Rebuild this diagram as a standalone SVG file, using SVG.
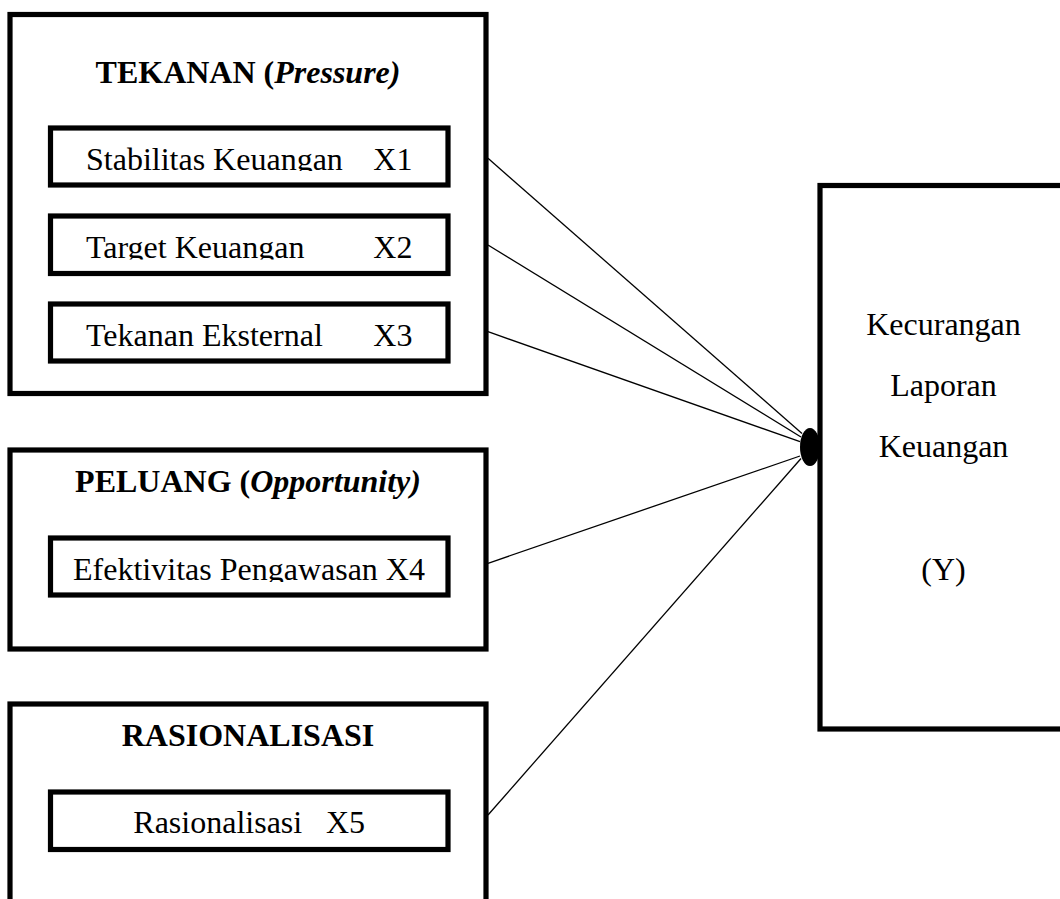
<svg xmlns="http://www.w3.org/2000/svg" width="1060" height="899" viewBox="0 0 1060 899">
<style>
.box{fill:none;stroke:#000;stroke-width:5.2}
.t{font-family:"Liberation Serif","Times New Roman",serif;font-size:32px;fill:#000}
.b{font-weight:bold}
.i{font-style:italic}
.c{text-anchor:middle}
.ln{stroke:#000;stroke-width:1.3;fill:none}
</style>
<defs>
<clipPath id="c1"><rect x="53" y="130" width="393" height="41"/></clipPath>
<clipPath id="c2"><rect x="53" y="218" width="393" height="41.5"/></clipPath>
<clipPath id="c4"><rect x="53" y="540" width="393" height="42"/></clipPath>
</defs>
<rect width="1060" height="899" fill="#fff"/>
<g id="tekanan">
<rect class="box" x="10" y="14.5" width="476" height="379"/>
<text class="t b c" x="248" y="83">TEKANAN (<tspan class="i">Pressure)</tspan></text>
</g>
<g id="x1">
<rect class="box" x="50.5" y="128" width="397.5" height="57"/>
<text class="t" y="170" clip-path="url(#c1)"><tspan x="86">Stabilitas Keuangan</tspan><tspan x="373.3">X1</tspan></text>
</g>
<g id="x2">
<rect class="box" x="50.5" y="216" width="397.5" height="57.5"/>
<text class="t" y="258.3" clip-path="url(#c2)"><tspan x="86">Target Keuangan</tspan><tspan x="373.3">X2</tspan></text>
</g>
<g id="x3">
<rect class="box" x="50.5" y="304" width="397.5" height="57"/>
<text class="t" y="345.7"><tspan x="86">Tekanan Eksternal</tspan><tspan x="373.3">X3</tspan></text>
</g>
<g id="peluang">
<rect class="box" x="10" y="450" width="476" height="199"/>
<text class="t b c" x="248" y="491.7">PELUANG (<tspan class="i">Opportunity)</tspan></text>
</g>
<g id="x4">
<rect class="box" x="50.5" y="538" width="397.5" height="57"/>
<text class="t c" x="249" y="580" clip-path="url(#c4)">Efektivitas Pengawasan X4</text>
</g>
<g id="rasionalisasi">
<rect class="box" x="10" y="704" width="476" height="230"/>
<text class="t b c" x="248" y="745.7">RASIONALISASI</text>
</g>
<g id="x5">
<rect class="box" x="50.5" y="792" width="397.5" height="57.5"/>
<text class="t" y="833.3"><tspan x="133.3">Rasionalisasi</tspan><tspan x="326">X5</tspan></text>
</g>
<g id="y">
<rect class="box" x="820" y="185.5" width="300" height="543.5"/>
<text class="t c" x="943.5" y="335">Kecurangan</text>
<text class="t c" x="943.5" y="396">Laporan</text>
<text class="t c" x="943.5" y="456.5">Keuangan</text>
<text class="t c" x="943.5" y="580">(Y)</text>
</g>
<g id="connectors">
<line class="ln" x1="488" y1="158.3" x2="802" y2="433.5"/>
<line class="ln" x1="488" y1="245" x2="801" y2="437"/>
<line class="ln" x1="488" y1="331.7" x2="800" y2="441.7"/>
<line class="ln" x1="488" y1="563.3" x2="800" y2="456"/>
<line class="ln" x1="488" y1="815" x2="801" y2="458.5"/>
<ellipse cx="810" cy="447" rx="10" ry="19" fill="#000"/>
</g>
</svg>
